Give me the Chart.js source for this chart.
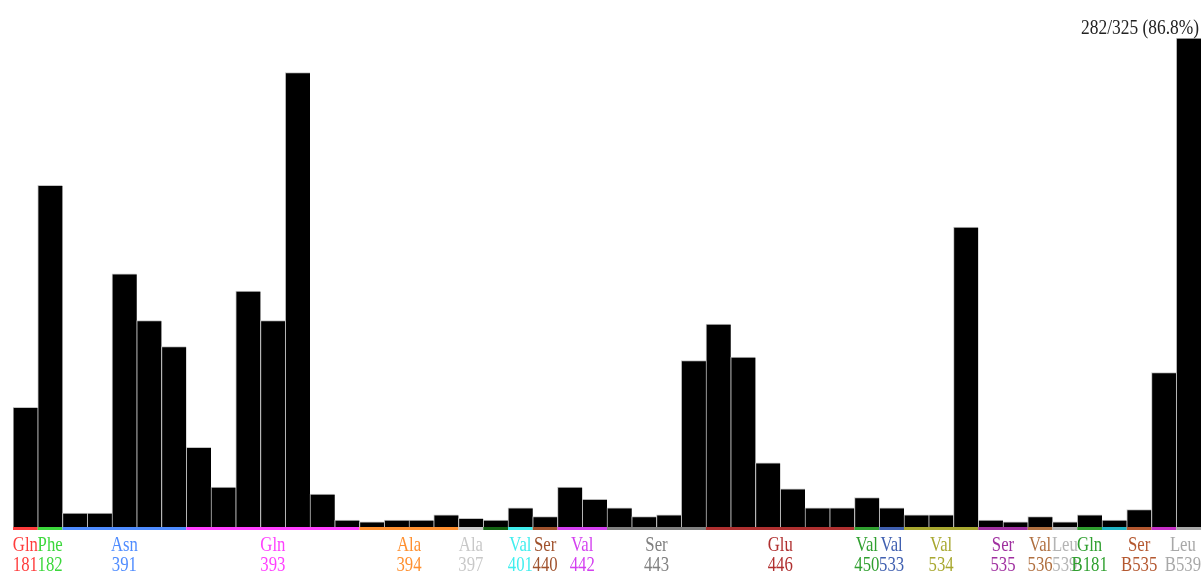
<!DOCTYPE html>
<html lang="en">
<head>
    <meta charset="UTF-8">
    <meta name="viewport" content="width=device-width, initial-scale=1.0">
    <script src="https://cdn.jsdelivr.net/npm/chart.js"></script>
    <style>
        body {
            margin: 0;
            background: #fff;
        }
        .chart-box {
            width: 1203px; /* full window width */
            height: 576px;
            position: relative;
        }
    </style>
</head>
<body>
    <div class="chart-box">
        <canvas id="contactChart"></canvas>
    </div>

    <script>
        // contact counts, one bar per frame bin
        const counts = [69, 197, 8, 8, 146, 119, 104, 46, 23, 136, 119, 262, 19, 4, 3, 4,
                        4, 7, 5, 4, 11, 6, 23, 16, 11, 6, 7, 96, 117, 98, 37, 22,
                        11, 11, 17, 11, 7, 7, 173, 4, 3, 6, 3, 7, 4, 10, 89, 282];
        const totalFrames = 325;

        // residues along the bottom, and how many bars each one covers
        const resNames = ['Gln', 'Phe', 'Asn', 'Gln', 'Ala', 'Ala', '', 'Val', 'Ser', 'Val', 'Ser', 'Glu',
                          'Val', 'Val', 'Val', 'Ser', 'Val', 'Leu', 'Gln', '', 'Ser', '', 'Leu'];
        const resNumbers = ['181', '182', '391', '393', '394', '397', '', '401', '440', '442', '443', '446',
                            '450', '533', '534', '535', '536', '539', 'B181', '', 'B535', '', 'B539'];
        const resSpans = [1, 1, 5, 7, 4, 1, 1, 1, 1, 2, 4, 6, 1, 1, 3, 2, 1, 1, 1, 1, 1, 1, 1];
        const resColors = ['#ff3c3c', '#3cd83c', '#4f8cff', '#ff40ff', '#ff9030', '#c8c8c8', '#146414',
                           '#40eeee', '#a0522d', '#d440f0', '#808080', '#b03030', '#30a030', '#3f5fb0',
                           '#a8a830', '#a030a0', '#b07040', '#b4b4b4', '#30a030', '#20b4c4', '#b45830',
                           '#c830c8', '#a8a8a8'];

        const labelFont = '22px "Liberation Serif"';
        const titleFont = '20px "Liberation Serif"';

        function drawNarrowText(ctx, text, x, y, align, squeeze) {
            ctx.save();
            ctx.translate(x, y);
            ctx.scale(squeeze, 1);
            ctx.textAlign = align;
            ctx.fillText(text, 0, 0);
            ctx.restore();
        }

        const residueAxis = {
            id: 'residueAxis',
            afterDraw(chart) {
                const ctx = chart.ctx;
                const area = chart.chartArea;
                const xs = chart.scales.x;
                const step = area.width / counts.length;
                const squeeze = 0.76; // residue labels are drawn narrow
                ctx.save();
                ctx.font = labelFont;
                ctx.textBaseline = 'alphabetic';

                let bar = 0;
                resSpans.forEach(function (span, i) {
                    const left = xs.getPixelForValue(bar) - step / 2;
                    const right = xs.getPixelForValue(bar + span - 1) + step / 2;
                    bar += span;

                    // coloured strip under the bars of this residue
                    ctx.fillStyle = resColors[i];
                    ctx.fillRect(left, area.bottom, right - left, 3);

                    if (!resNames[i]) return;
                    let cx = (left + right) / 2;
                    const w = Math.max(ctx.measureText(resNames[i]).width,
                                       ctx.measureText(resNumbers[i]).width) * squeeze;
                    if (cx + w / 2 > chart.width - 2) cx = chart.width - 2 - w / 2;
                    drawNarrowText(ctx, resNames[i], cx, area.bottom + 24, 'center', squeeze);
                    drawNarrowText(ctx, resNumbers[i], cx, area.bottom + 44, 'center', squeeze);
                });

                // best count over the total number of frames
                const best = Math.max.apply(null, counts);
                const pct = (best / totalFrames * 100).toFixed(1);
                ctx.font = titleFont;
                ctx.fillStyle = '#222';
                drawNarrowText(ctx, best + '/' + totalFrames + ' (' + pct + '%)',
                               chart.width - 4, area.top - 4, 'right', 0.87);
                ctx.restore();
            }
        };

        const ctx = document.getElementById('contactChart').getContext('2d');
        const myChart = new Chart(ctx, {
            type: 'bar',
            data: {
                labels: counts.map(function (c, i) { return i; }),
                datasets: [{
                    data: counts,
                    backgroundColor: '#000',
                    borderColor: '#c4c4c4',
                    borderWidth: { top: 1, left: 1, right: 0, bottom: 0 },
                    borderSkipped: false,
                    categoryPercentage: 1.0,
                    barPercentage: 1.0
                }]
            },
            options: {
                responsive: true,
                maintainAspectRatio: false,
                animation: false,
                layout: {
                    padding: { left: 13, right: 2, top: 38, bottom: 49 }
                },
                plugins: {
                    legend: { display: false },
                    tooltip: { enabled: false }
                },
                scales: {
                    x: { display: false },
                    y: { display: false, min: 0, max: 282 }
                }
            },
            plugins: [residueAxis]
        });
    </script>
</body>
</html>
